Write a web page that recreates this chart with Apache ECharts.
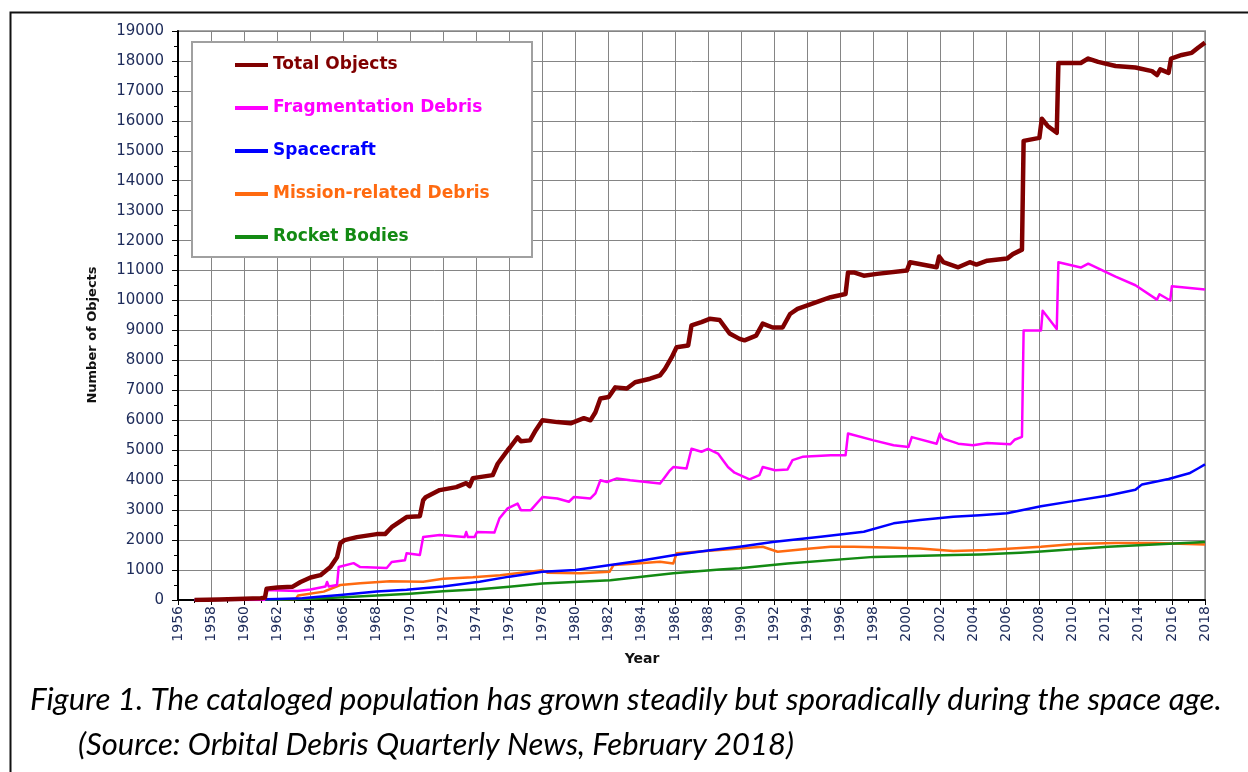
<!DOCTYPE html>
<html><head><meta charset="utf-8">
<script src="https://cdn.jsdelivr.net/npm/echarts@6/dist/echarts.min.js"></script>
<style>html,body{margin:0;padding:0;background:#fff}#c{width:1248px;height:772px}</style>
</head><body><div id="c"></div>
<script>
// ---- data ----
const seriesNames = ['Total Objects', 'Fragmentation Debris', 'Spacecraft', 'Mission-related Debris', 'Rocket Bodies'];

const totalYears = [1957.0, 1958.5, 1960.0, 1961.0, 1961.25, 1961.35, 1962.0, 1962.9, 1963.4, 1964.0, 1964.6, 1965.2, 1965.6, 1965.8, 1966.05, 1966.8, 1968.0, 1968.5, 1968.9, 1969.8, 1970.6, 1970.8, 1970.95, 1971.8, 1972.8, 1973.4, 1973.6, 1973.8, 1975.0, 1975.3, 1975.9, 1976.05, 1976.5, 1976.7, 1977.25, 1977.6, 1978.0, 1978.9, 1979.7, 1980.5, 1980.9, 1981.2, 1981.5, 1982.0, 1982.4, 1983.1, 1983.6, 1984.5, 1985.1, 1985.4, 1985.8, 1986.1, 1986.8, 1987.0, 1987.6, 1988.1, 1988.7, 1989.3, 1989.9, 1990.2, 1990.9, 1991.3, 1991.9, 1992.5, 1992.95, 1993.4, 1994.8, 1995.4, 1996.3, 1996.45, 1996.8, 1997.4, 1998.2, 2000.0, 2000.2, 2001.8, 2001.95, 2002.2, 2003.1, 2003.8, 2004.2, 2004.85, 2006.05, 2006.4, 2006.95, 2007.05, 2008.0, 2008.15, 2008.5, 2009.05, 2009.15, 2010.5, 2010.95, 2011.55, 2012.6, 2013.8, 2014.8, 2015.1, 2015.3, 2015.8, 2015.95, 2016.6, 2017.2, 2017.6, 2018.0];
const totalValues = [0, 20, 40, 60, 80, 380, 420, 440, 600, 750, 830, 1100, 1430, 1900, 2000, 2100, 2200, 2200, 2430, 2770, 2800, 3330, 3430, 3670, 3770, 3900, 3800, 4070, 4170, 4550, 5000, 5100, 5430, 5300, 5330, 5670, 6000, 5940, 5900, 6070, 6000, 6270, 6730, 6780, 7100, 7060, 7270, 7390, 7500, 7720, 8100, 8440, 8500, 9170, 9280, 9390, 9350, 8900, 8720, 8670, 8830, 9230, 9100, 9100, 9550, 9720, 10000, 10110, 10220, 10940, 10940, 10830, 10890, 11000, 11280, 11110, 11470, 11280, 11110, 11280, 11200, 11330, 11400, 11550, 11700, 15330, 15430, 16070, 15830, 15600, 17930, 17930, 18080, 17970, 17830, 17780, 17660, 17530, 17720, 17600, 18080, 18200, 18270, 18450, 18610];

const fragYears = [1957.0, 1961.2, 1961.3, 1963.2, 1964.0, 1964.9, 1965.0, 1965.1, 1965.6, 1965.7, 1966.6, 1967.0, 1968.6, 1968.9, 1969.7, 1969.8, 1970.6, 1970.8, 1971.8, 1973.3, 1973.4, 1973.5, 1973.9, 1974.05, 1975.1, 1975.4, 1975.9, 1976.5, 1976.7, 1977.3, 1978.0, 1978.9, 1979.6, 1979.9, 1980.9, 1981.2, 1981.5, 1981.9, 1982.5, 1983.3, 1985.1, 1985.4, 1985.7, 1985.9, 1986.7, 1987.0, 1987.6, 1988.0, 1988.6, 1989.2, 1989.6, 1990.5, 1991.1, 1991.3, 1992.05, 1992.8, 1993.1, 1993.7, 1995.4, 1996.3, 1996.45, 1998.0, 1999.2, 2000.1, 2000.3, 2001.8, 2002.0, 2002.2, 2003.1, 2004.0, 2004.85, 2006.25, 2006.5, 2006.95, 2007.05, 2008.1, 2008.2, 2009.05, 2009.15, 2010.5, 2010.95, 2012.6, 2013.8, 2015.1, 2015.25, 2015.9, 2016.0, 2018.0];
const fragValues = [0, 0, 330, 300, 350, 450, 600, 450, 500, 1100, 1230, 1100, 1070, 1270, 1330, 1560, 1500, 2100, 2170, 2100, 2270, 2100, 2100, 2270, 2250, 2720, 3060, 3220, 3000, 3000, 3440, 3390, 3280, 3440, 3390, 3560, 4000, 3940, 4060, 4000, 3890, 4110, 4330, 4440, 4390, 5050, 4950, 5050, 4890, 4440, 4250, 4030, 4170, 4440, 4330, 4360, 4670, 4780, 4830, 4830, 5560, 5330, 5170, 5110, 5440, 5220, 5560, 5390, 5220, 5170, 5240, 5200, 5350, 5450, 9000, 9000, 9660, 9050, 11280, 11100, 11230, 10800, 10510, 10030, 10210, 10000, 10480, 10370];

const scYears = [1957.0, 1960.0, 1962.0, 1963.5, 1964.5, 1965.8, 1968.0, 1969.8, 1972.0, 1974.2, 1976.0, 1978.0, 1980.0, 1982.1, 1984.0, 1986.0, 1988.0, 1989.9, 1991.9, 1994.8, 1997.4, 1999.2, 2000.8, 2002.8, 2004.4, 2006.05, 2008.1, 2010.1, 2012.15, 2013.8, 2014.2, 2015.8, 2017.05, 2017.6, 2018.0];
const scValues = [0, 10, 30, 60, 110, 170, 280, 340, 450, 610, 780, 940, 1000, 1170, 1320, 1500, 1650, 1780, 1940, 2110, 2280, 2560, 2670, 2780, 2830, 2900, 3130, 3310, 3490, 3680, 3860, 4040, 4230, 4400, 4530];

const mrdYears = [1957.0, 1963.1, 1963.25, 1964.8, 1965.8, 1967.0, 1968.8, 1970.8, 1972.0, 1973.8, 1975.45, 1978.0, 1978.3, 1980.3, 1982.05, 1982.3, 1983.7, 1985.1, 1985.9, 1986.1, 1987.3, 1988.7, 1989.9, 1991.3, 1992.2, 1994.2, 1995.4, 1996.8, 1998.8, 2000.8, 2002.8, 2004.85, 2006.85, 2008.1, 2010.1, 2012.6, 2015.0, 2018.0];
const mrdValues = [0, 30, 150, 280, 500, 560, 630, 610, 710, 760, 830, 990, 910, 890, 940, 1170, 1220, 1280, 1220, 1560, 1610, 1670, 1720, 1780, 1610, 1720, 1780, 1780, 1750, 1720, 1640, 1670, 1740, 1780, 1870, 1900, 1900, 1850];

const rbYears = [1957.0, 1960.0, 1962.0, 1964.0, 1966.0, 1968.0, 1970.0, 1972.0, 1974.2, 1976.0, 1978.0, 1982.1, 1985.9, 1988.7, 1989.9, 1992.8, 1998.0, 2002.8, 2004.4, 2006.85, 2008.1, 2012.15, 2018.0];
const rbValues = [0, 10, 20, 40, 90, 150, 210, 290, 360, 440, 550, 660, 890, 1020, 1060, 1220, 1440, 1500, 1520, 1580, 1620, 1780, 1940];

const xMin = 1956, xMax = 2018, xStep = 2;
const yMin = 0, yMax = 19000, yStep = 1000;
const yAxisTitle = 'Number of Objects';
const xAxisTitle = 'Year';
const captionLine1 = 'Figure 1. The cataloged population has grown steadily but sporadically during the space age.';
const captionLine2 = '(Source: Orbital Debris Quarterly News, February 2018)';

// ---- chart ----
const colors = ['#800000', '#ff00ff', '#0000ff', '#ff6a10', '#138a13'];
const widths = [4.5, 2.5, 2.5, 2.5, 2.5];
function pairs(xs, ys) { return xs.map((x, i) => [x, ys[i]]); }
const allData = [
  pairs(totalYears, totalValues),
  pairs(fragYears, fragValues),
  pairs(scYears, scValues),
  pairs(mrdYears, mrdValues),
  pairs(rbYears, rbValues)
];
const zOrder = [6, 5, 4, 3, 3];

const chart = echarts.init(document.getElementById('c'), null, {renderer: 'canvas'});
const labelColor = '#1d2b5a';
chart.setOption({
  animation: false,
  backgroundColor: '#ffffff',
  grid: {left: 178, right: 43, top: 31, bottom: 172, show: true, borderColor: '#a8a8a8', borderWidth: 2, backgroundColor: 'transparent'},
  xAxis: {
    type: 'value', min: xMin, max: xMax, interval: xStep,
    axisLine: {show: true, onZero: false, lineStyle: {color: '#000', width: 2}},
    axisTick: {show: true, length: 5, lineStyle: {color: '#000'}},
    minorTick: {show: true, splitNumber: 2, length: 3, lineStyle: {color: '#000'}},
    axisLabel: {rotate: 90, margin: 6, color: labelColor, fontFamily: 'DejaVu Sans', fontSize: 14, formatter: v => String(v)},
    splitLine: {show: true, lineStyle: {color: '#858585', width: 1}}
  },
  yAxis: {
    type: 'value', min: yMin, max: yMax, interval: yStep,
    axisLine: {show: true, lineStyle: {color: '#000', width: 2}},
    axisTick: {show: true, length: 6, lineStyle: {color: '#000'}},
    minorTick: {show: true, splitNumber: 2, length: 4, lineStyle: {color: '#000'}},
    axisLabel: {margin: 14, color: labelColor, fontFamily: 'DejaVu Sans', fontSize: 15, formatter: v => String(v)},
    splitLine: {show: true, lineStyle: {color: '#858585', width: 1}}
  },
  legend: {
    orient: 'vertical', left: 235, top: 55, padding: 0,
    itemWidth: 33, itemHeight: 4, itemGap: 23, itemTextGap: 5,
    icon: 'rect', z: 10,
    textStyle: {fontFamily: 'DejaVu Sans', fontWeight: 'bold', fontSize: 17, lineHeight: 20},
    data: seriesNames.map((n, i) => ({name: n, textStyle: {color: colors[i]}}))
  },
  graphic: [
    {type: 'rect', left: 8, top: 10, z: 0, silent: true, shape: {width: 1300, height: 800}, style: {fill: 'none', stroke: '#111', lineWidth: 2}},
    {type: 'rect', x: 192, y: 42, z: 9, silent: true, shape: {width: 340, height: 215}, style: {fill: '#fff', stroke: '#a0a0a0', lineWidth: 2}},
    {type: 'text', x: 93, y: 335, rotation: Math.PI / 2, z: 10, style: {text: yAxisTitle, fill: '#111', font: 'bold 13px "DejaVu Sans"', textAlign: 'center', textVerticalAlign: 'middle'}},
    {type: 'text', x: 642, y: 659, z: 10, style: {text: xAxisTitle, fill: '#111', font: 'bold 14px "DejaVu Sans"', textAlign: 'center', textVerticalAlign: 'middle'}},
    {type: 'text', x: 30, y: 700, z: 10, style: {text: captionLine1, fill: '#000', font: 'italic 31.3px Lato', textAlign: 'left', textVerticalAlign: 'middle'}},
    {type: 'text', x: 78, y: 745, z: 10, style: {text: captionLine2, fill: '#000', font: 'italic 31px Lato', textAlign: 'left', textVerticalAlign: 'middle'}}
  ],
  series: seriesNames.map((n, i) => ({
    name: n, type: 'line', data: allData[i], showSymbol: false, symbol: 'none', z: zOrder[i],
    color: colors[i], lineStyle: {color: colors[i], width: widths[i], join: 'round'}
  }))
});
</script>
</body></html>
